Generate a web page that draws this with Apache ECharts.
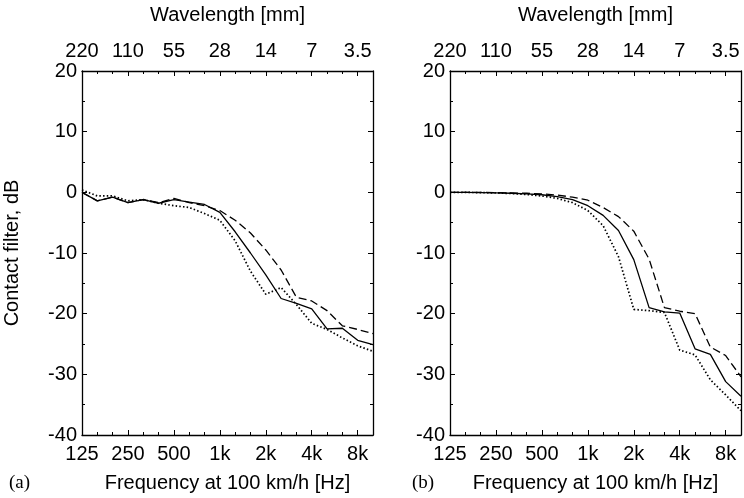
<!DOCTYPE html>
<html>
<head>
<meta charset="utf-8">
<script src="https://cdn.jsdelivr.net/npm/echarts@6/dist/echarts.min.js"></script>
<style>html,body{margin:0;padding:0;background:#fff;}#chart{width:744px;height:498px;}</style>
</head>
<body>
<div id="chart"></div>
<script>
// Third-octave band centre frequencies (Hz) at 100 km/h
const bands = [125,160,200,250,315,400,500,630,800,1000,1250,1600,2000,2500,3150,4000,5000,6300,8000,10000];
const freqLabels = ['125','250','500','1k','2k','4k','8k'];
const waveLabels = ['220','110','55','28','14','7','3.5'];
const yTicks = [-40,-30,-20,-10,0,10,20];

// Panel (a)
const aSolid  = [0,-1.4,-0.8,-1.7,-1.2,-1.8,-1.2,-1.6,-2.0,-3.3,-6.5,-10.0,-13.6,-17.5,-18.3,-19.2,-22.5,-22.4,-24.4,-25.1];
const aDashed = [0,-1.4,-0.8,-1.7,-1.2,-1.7,-1.0,-1.7,-2.2,-3.0,-4.6,-6.7,-9.5,-12.8,-17.3,-17.9,-19.5,-22.0,-22.6,-23.3];
const aDotted = [0.4,-0.6,-0.6,-1.4,-1.2,-1.8,-2.2,-2.5,-3.5,-4.6,-8.0,-13.0,-16.8,-15.7,-18.5,-21.6,-22.6,-24.0,-25.3,-26.2];

// Panel (b)
const bSolid  = [0,0,-0.05,-0.1,-0.15,-0.25,-0.4,-0.7,-1.2,-2.2,-3.8,-6.3,-11.1,-19.0,-19.7,-19.9,-25.8,-26.7,-31.2,-33.6];
const bDashed = [0,0,0,-0.05,-0.1,-0.15,-0.25,-0.45,-0.8,-1.3,-2.5,-4.0,-6.4,-11.0,-19.0,-19.6,-20.0,-25.5,-26.9,-30.4];
const bDotted = [0,0,-0.05,-0.1,-0.2,-0.35,-0.6,-1.0,-1.7,-3.0,-5.5,-10.6,-19.3,-19.5,-19.8,-26.0,-26.8,-30.9,-33.4,-36.0];

const FONT = '"Liberation Sans", Arial, sans-serif';
const FS = 20;
const BLACK = '#000';

function pts(vals){ return bands.map((f,i)=>[i, vals[i]]); }

function xAx(g, pos, labels, name, nameGap){
  return {
    gridIndex:g, type:'value', min:0, max:bands.length-1, interval:3, position:pos,
    axisLine:{show:true, onZero:false, lineStyle:{color:BLACK, width:1.3}},
    axisTick:{show:true, inside:true, length:5, lineStyle:{color:BLACK, width:1}},
    minorTick:{show:true, splitNumber:3, length:3, lineStyle:{color:BLACK, width:1}},
    axisLabel:{fontSize:FS, color:BLACK, fontFamily:FONT, margin:pos==='bottom'?9:10,
      formatter:(v)=> (v%3===0 && labels[v/3]!==undefined) ? labels[v/3] : ''},
    splitLine:{show:false},
    name:name, nameLocation:'middle', nameGap:nameGap,
    nameTextStyle:{fontSize:FS, color:BLACK, fontFamily:FONT}
  };
}
function yAx(g, pos, showLabel, name){
  return {
    gridIndex:g, type:'value', min:-40, max:20, interval:10, position:pos,
    axisLine:{show:true, onZero:false, lineStyle:{color:BLACK, width:1.3}},
    axisTick:{show:true, inside:true, length:5, lineStyle:{color:BLACK, width:1}},
    minorTick:{show:true, splitNumber:2, length:3, lineStyle:{color:BLACK, width:1}},
    axisLabel:{show:showLabel, fontSize:FS, color:BLACK, fontFamily:FONT, margin:5,
      formatter:(v)=> yTicks.indexOf(v)>=0 ? String(v) : ''},
    splitLine:{show:false},
    name:name, nameLocation:'middle', nameGap:60,
    nameTextStyle:{fontSize:FS, color:BLACK, fontFamily:FONT}
  };
}
function ser(g, vals, type){
  const ls = {color:BLACK, width:1.3, type:'solid'};
  if(type==='dashed'){ ls.type=[8,4]; }
  if(type==='dotted'){ ls.type=[1.5,2.2]; ls.width=1.7; }
  return {type:'line', xAxisIndex:g*2, yAxisIndex:g*2, data:pts(vals), symbol:'none',
    lineStyle:ls, silent:true, z:3};
}

const chart = echarts.init(document.getElementById('chart'), null, {renderer:'canvas'});
chart.setOption({
  animation:false,
  backgroundColor:'#fff',
  grid:[
    {left:82, top:68, width:291, height:369},
    {left:450, top:68, width:292, height:369}
  ],
  xAxis:[
    xAx(0,'bottom',freqLabels,'Frequency at 100 km/h [Hz]',38),
    xAx(0,'top',waveLabels,'Wavelength [mm]',46),
    xAx(1,'bottom',freqLabels,'Frequency at 100 km/h [Hz]',38),
    xAx(1,'top',waveLabels,'Wavelength [mm]',46)
  ],
  yAxis:[
    yAx(0,'left',true,'Contact filter, dB'),
    yAx(0,'right',false,''),
    yAx(1,'left',true,''),
    yAx(1,'right',false,'')
  ],
  series:[
    ser(0,aSolid,'solid'), ser(0,aDashed,'dashed'), ser(0,aDotted,'dotted'),
    ser(1,bSolid,'solid'), ser(1,bDashed,'dashed'), ser(1,bDotted,'dotted')
  ],
  graphic:[
    {type:'text', left:9, top:474, style:{text:'(a)', font:'19px "Liberation Serif", serif', fill:BLACK}},
    {type:'text', left:412, top:474, style:{text:'(b)', font:'19px "Liberation Serif", serif', fill:BLACK}}
  ]
});
</script>
</body>
</html>
